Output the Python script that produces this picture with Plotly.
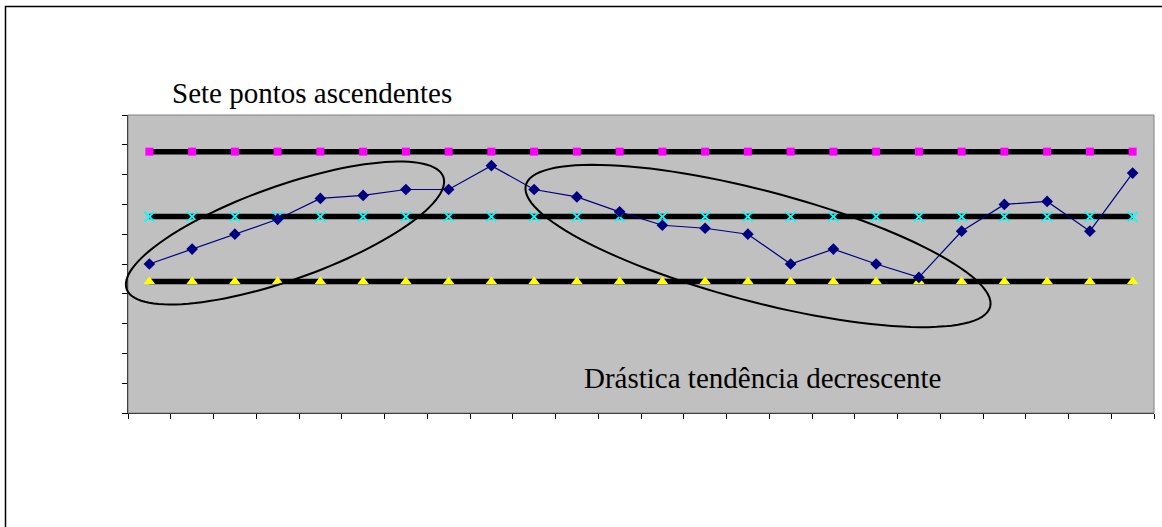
import numpy as np
import plotly.graph_objects as go

# Control chart data: 24 samples
samples = list(range(1, 25))
measurements = [5.0, 5.5, 6.0, 6.5, 7.2, 7.3, 7.5, 7.5, 8.3, 7.5, 7.25, 6.75,
                6.3, 6.2, 6.0, 5.0, 5.5, 5.0, 4.55, 6.1, 7.0, 7.1, 6.1, 8.05]
ucl_value = 8.77
center_value = 6.59
lcl_value = 4.41

ucl = [ucl_value] * len(samples)
center = [center_value] * len(samples)
lcl = [lcl_value] * len(samples)

W, H = 1162, 527
ML, MR, MT, MB = 128, 8, 115, 114
PW, PH = W - ML - MR, H - MT - MB


def px_to_paper(px, py):
    return (px - ML) / PW, (H - MB - py) / PH


def ellipse_path(cx, cy, a, b, angle_deg, n=120):
    """Rotated ellipse given in screen pixels, returned as an SVG path in paper units."""
    t = np.linspace(0, 2 * np.pi, n)
    th = np.radians(angle_deg)
    xs = cx + a * np.cos(t) * np.cos(th) - b * np.sin(t) * np.sin(th)
    ys = cy - (a * np.cos(t) * np.sin(th) + b * np.sin(t) * np.cos(th))
    pts = [px_to_paper(x, y) for x, y in zip(xs, ys)]
    d = "M " + " L ".join(f"{x:.5f},{y:.5f}" for x, y in pts) + " Z"
    return d


fig = go.Figure()

fig.add_trace(go.Scatter(
    x=samples, y=ucl, mode="lines+markers",
    line=dict(color="black", width=5.5),
    marker=dict(symbol="square", size=8, color="#FF00FF"),
    showlegend=False))
fig.add_trace(go.Scatter(
    x=samples, y=center, mode="lines+markers",
    line=dict(color="black", width=5.5),
    marker=dict(symbol="x-thin", size=10, color="#00FFFF",
                line=dict(color="#00FFFF", width=2)),
    showlegend=False))
fig.add_trace(go.Scatter(
    x=samples, y=lcl, mode="lines+markers",
    line=dict(color="black", width=5.5),
    marker=dict(symbol="triangle-up", size=10, color="#FFFF00"),
    showlegend=False))
fig.add_trace(go.Scatter(
    x=samples, y=measurements, mode="lines+markers",
    line=dict(color="#000080", width=1.2),
    marker=dict(symbol="diamond", size=9, color="#000080"),
    showlegend=False))

shapes = [
    # outer chart frame
    dict(type="rect", xref="paper", yref="paper",
         x0=px_to_paper(5.5, 0)[0], x1=1.2,
         y0=-0.5, y1=px_to_paper(0, 6.5)[1],
         line=dict(color="black", width=1.5), layer="below"),
    # plot area border
    dict(type="rect", xref="paper", yref="paper", x0=0, x1=1, y0=0, y1=1,
         line=dict(color="#808080", width=1), layer="above"),
    dict(type="path", xref="paper", yref="paper",
         path=ellipse_path(285, 233, 168, 47, 19.5),
         line=dict(color="black", width=2)),
    dict(type="path", xref="paper", yref="paper",
         path=ellipse_path(758, 246, 240, 55.5, -14.7),
         line=dict(color="black", width=2)),
]

ax1 = px_to_paper(170, 93)
ax2 = px_to_paper(582, 378)
annotations = [
    dict(text="Sete pontos ascendentes", xref="paper", yref="paper",
         x=ax1[0], y=ax1[1], xanchor="left", yanchor="middle", showarrow=False,
         font=dict(family="Liberation Serif", size=29, color="black")),
    dict(text="Drástica tendência decrescente", xref="paper", yref="paper",
         x=ax2[0], y=ax2[1], xanchor="left", yanchor="middle", showarrow=False,
         font=dict(family="Liberation Serif", size=29, color="black")),
]

fig.update_layout(
    width=W, height=H,
    margin=dict(l=ML, r=MR, t=MT, b=MB, pad=0),
    paper_bgcolor="white", plot_bgcolor="#C0C0C0",
    shapes=shapes, annotations=annotations,
    xaxis=dict(range=[0.5, 24.5], showgrid=False, zeroline=False,
               tickmode="array", tickvals=[k + 0.5 for k in range(25)],
               ticks="outside", ticklen=5, tickcolor="black", tickwidth=1,
               showticklabels=False, showline=True, linecolor="black", linewidth=1),
    yaxis=dict(range=[0, 10], showgrid=False, zeroline=False,
               tickmode="linear", tick0=0, dtick=1,
               ticks="outside", ticklen=5, tickcolor="black", tickwidth=1,
               showticklabels=False, showline=True, linecolor="black", linewidth=1),
)

fig.write_html("out.html")
